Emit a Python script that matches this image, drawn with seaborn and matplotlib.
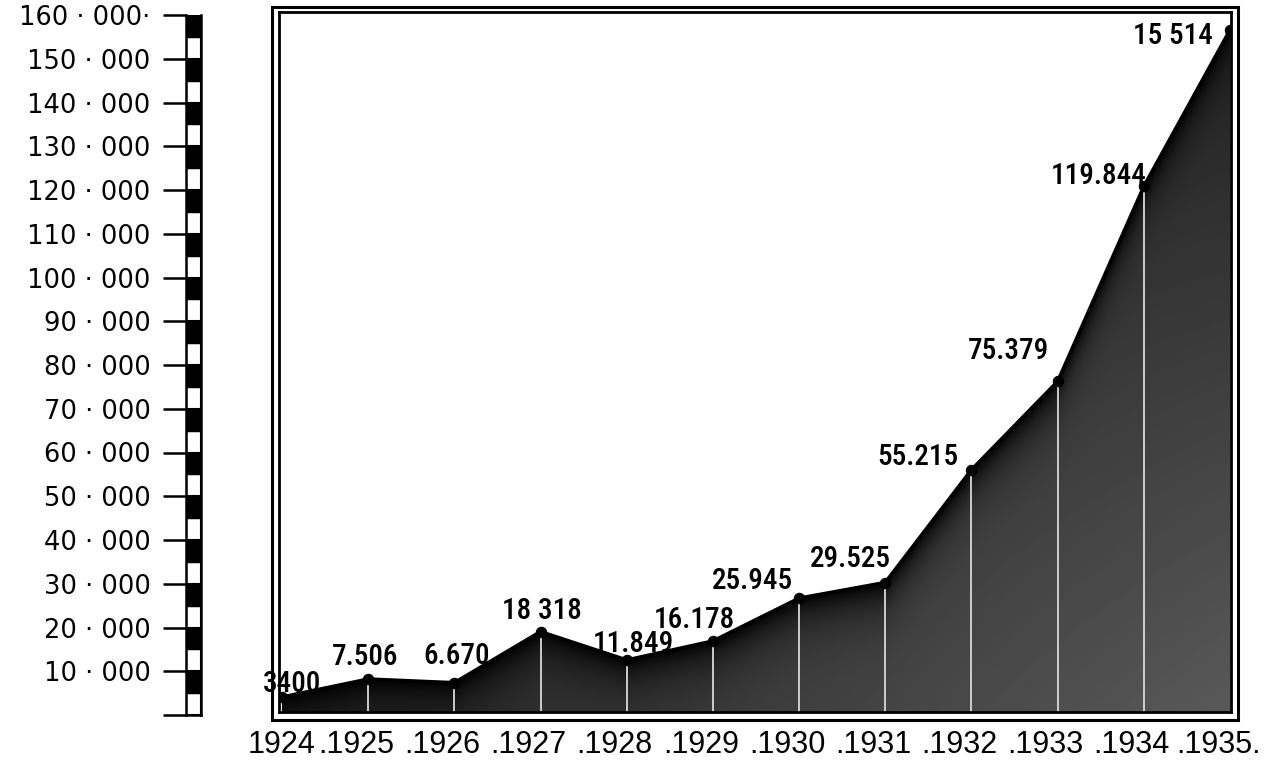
import numpy as np
import matplotlib
matplotlib.use("Agg")
import matplotlib.pyplot as plt
import matplotlib.transforms as mtransforms
from matplotlib import font_manager as fm
from matplotlib.patches import Rectangle
import seaborn as sns

# ---------------- data ----------------
years = [1924, 1925, 1926, 1927, 1928, 1929, 1930, 1931, 1932, 1933, 1934, 1935]
values = [3400, 7506, 6670, 18318, 11849, 16178, 25945, 29525, 55215, 75379, 119844, 155514]
value_labels = ["3400", "7.506", "6.670", "18 318", "11.849", "16.178",
                "25.945", "29.525", "55.215", "75.379", "119.844", "15 514"]
year_labels = ["1924", ".1925", ".1926", ".1927", ".1928", ".1929", ".1930",
               ".1931", ".1932", ".1933", ".1934", ".1935."]
scale_ticks = [0, 10000, 20000, 30000, 40000, 50000, 60000, 70000, 80000,
               90000, 100000, 110000, 120000, 130000, 140000, 150000, 160000]
scale_labels = ["", "10 · 000", "20 · 000", "30 · 000", "40 · 000", "50 · 000",
                "60 · 000", "70 · 000", "80 · 000", "90 · 000", "100 · 000",
                "110 · 000", "120 · 000", "130 · 000", "140 · 000", "150 · 000",
                "160 · 000·"]

# label placement (pixel offsets from each point)
label_offsets = [(10, 13), (-3, 22), (2, 27), (1, 21), (7, 16), (-19, 21),
                 (-47, 17), (-35, 24), (-54, 13), (-49, 30), (-45, 10), (-57, -6)]

# ---------------- style ----------------
sns.set_style("white")
plt.rcParams.update({
    "text.color": "black", "xtick.color": "black", "ytick.color": "black",
    "axes.edgecolor": "black", "axes.labelcolor": "black",
})
plt.rcParams["font.family"] = ["DejaVu Sans"]

installed = {f.name for f in fm.fontManager.ttflist}
narrow_font = None
for cand in ["Liberation Sans Narrow", "Roboto Condensed", "Noto Sans Condensed",
             "DejaVu Sans Condensed", "Open Sans Condensed"]:
    if cand in installed:
        narrow_font = cand
        break
if narrow_font is not None:
    lab_family, lab_size = [narrow_font, "DejaVu Sans"], 21
else:
    lab_family, lab_size = ["Liberation Sans", "DejaVu Sans"], 18

W, H = 1271, 762
fig = plt.figure(figsize=(W / 100, H / 100), dpi=100)
fig.patch.set_facecolor("white")


def fx(px):
    return px / W


def fy(py):
    return 1 - py / H


# ---------------- main panel ----------------
ax = fig.add_axes([fx(279), fy(712), (1231 - 279) / W, (712 - 12) / H])
step = (1230 - 282) / 11.0
xlo = 1924 - 3 / step
xhi = 1935 + 1 / step
ytop = 700 / (682 / 155514)

fill = ax.fill_between(years, values, 0, color="#1c1c1c", lw=0, zorder=1)

# shading of the filled area: darker just under the line, lighter toward lower right
ny, nx = 240, 400
xg = np.linspace(xlo, xhi, nx)
yy = np.linspace(0, 1, ny)[:, None]
xx = np.linspace(0, 1, nx)[None, :]
curve = np.interp(xg, years, values)[None, :] / ytop
depth = np.clip(curve - yy, 0, None)
shade = (0.13 + 0.22 * xx * (1 - yy)) * (1 - np.exp(-depth / 0.035))
img = ax.imshow(shade, cmap="gray", vmin=0, vmax=1, origin="lower",
                extent=[xlo, xhi, 0, ytop], aspect="auto",
                interpolation="bilinear", zorder=1.5)
img.set_clip_path(fill.get_paths()[0], transform=ax.transData)

ax.vlines(years[1:-1], 0, values[1:-1], colors="#d8d8d8", lw=1.3, zorder=2)

sns.lineplot(x=years, y=values, ax=ax, color="black", lw=2.6, marker="o",
             markersize=7.5, markeredgecolor="black", zorder=3)

for yr, v, lbl, (dx, dy) in zip(years, values, value_labels, label_offsets):
    ax.annotate(lbl, (yr, v), xytext=(dx, dy), textcoords="offset pixels",
                ha="center", va="center", fontsize=lab_size, fontweight="medium",
                family=lab_family, zorder=5, annotation_clip=False)

ax.set_xlim(xlo, xhi)
ax.set_ylim(0, ytop)
ax.set_xticks(years)
ax.set_xticklabels(year_labels, fontsize=22, family=["Liberation Sans", "DejaVu Sans"])
ax.tick_params(axis="x", length=0, pad=13)
ax.set_yticks([])
ax.set_xlabel("")
ax.set_ylabel("")
for s in ax.spines.values():
    s.set_visible(True)
    s.set_linewidth(2.0)
    s.set_color("black")

shift = mtransforms.ScaledTranslation(-12 / 100, 0, fig.dpi_scale_trans)
for t in ax.get_xticklabels()[1:]:
    t.set_transform(t.get_transform() + shift)

# outer frame of the double border
fig.patches.append(Rectangle((fx(272), fy(720)), (1238 - 272) / W, (720 - 7) / H,
                             transform=fig.transFigure, fill=False, lw=2.2,
                             ec="black", zorder=0))

# ---------------- scale bar ----------------
ax_s = fig.add_axes([fx(186), fy(715), 15 / W, 700 / H])
black_bottoms = [t - 5000 for t in scale_ticks[1:]]
white_bottoms = scale_ticks[:-1]
ax_s.bar([0.5] * len(white_bottoms), 5000, width=1, bottom=white_bottoms,
         color="white", edgecolor="black", lw=1.5, align="center")
ax_s.bar([0.5] * len(black_bottoms), 5000, width=1, bottom=black_bottoms,
         color="black", edgecolor="black", lw=1.0, align="center")
ax_s.set_xlim(0, 1)
ax_s.set_ylim(0, 160000)
ax_s.set_yticks(scale_ticks)
ax_s.set_yticklabels(scale_labels, fontsize=18.5)
ax_s.tick_params(axis="y", length=16.5, width=1.8, pad=9, left=True)
ax_s.set_xticks([])
for name, s in ax_s.spines.items():
    s.set_color("black")
    s.set_linewidth(1.8)
    s.set_visible(name in ("left", "right", "bottom"))

fig.savefig("out.png", dpi=100, facecolor="white")
